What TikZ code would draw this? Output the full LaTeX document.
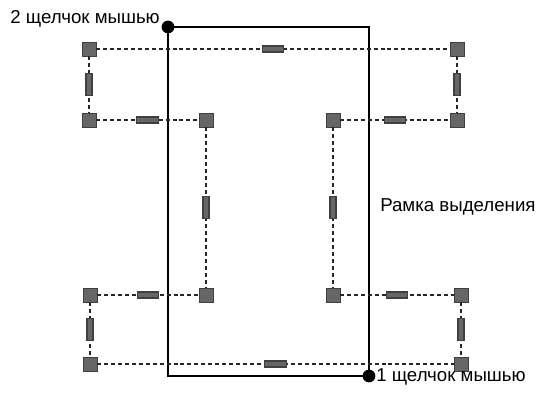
\documentclass[tikz,border=0pt]{standalone}
\usepackage{fontspec}
\setmainfont{Liberation Sans}
\begin{document}
\begin{tikzpicture}[x=0.75pt,y=-0.75pt,
  grip/.style={draw=black!75, fill=black!60, solid, minimum size=10.5pt, inner sep=0pt},
  hbar/.style={draw=black!75, fill=black!60, solid, minimum width=16pt, minimum height=4.5pt, inner sep=0pt},
  vbar/.style={draw=black!75, fill=black!60, solid, minimum width=4.5pt, minimum height=16pt, inner sep=0pt},
  link/.style={black!85, dash pattern=on 3pt off 2.2pt, line width=0.9pt},
  label/.style={font=\fontsize{14}{16}\selectfont, inner sep=0pt}]
\useasboundingbox (0,0) rectangle (537,417);

% selection frame
\coordinate (click2) at (168,27);
\coordinate (click1) at (369,376);
\draw[line width=1pt] (click2) rectangle (click1);

% grips
\node[grip] (tl)  at (89,49)   {};
\node[grip] (tr)  at (457,49)  {};
\node[grip] (tli) at (89,120)  {};
\node[grip] (tlc) at (206,120) {};
\node[grip] (trc) at (333,120) {};
\node[grip] (tri) at (457,120) {};
\node[grip] (bli) at (90,295)  {};
\node[grip] (blc) at (206,295) {};
\node[grip] (brc) at (333,295) {};
\node[grip] (bri) at (461,295) {};
\node[grip] (bl)  at (90,364)  {};
\node[grip] (br)  at (461,364) {};

% dashed outline with handles
\draw[link] (tl) -- (tr) node[midway,hbar] {};
\draw[link] (tl) -- (tli) node[midway,vbar] {};
\draw[link] (tr) -- (tri) node[midway,vbar] {};
\draw[link] (tli) -- (tlc) node[midway,hbar] {};
\draw[link] (trc) -- (tri) node[midway,hbar] {};
\draw[link] (tlc) -- (blc) node[midway,vbar] {};
\draw[link] (trc) -- (brc) node[midway,vbar] {};
\draw[link] (bli) -- (blc) node[midway,hbar] {};
\draw[link] (brc) -- (bri) node[midway,hbar] {};
\draw[link] (bli) -- (bl) node[midway,vbar] {};
\draw[link] (bri) -- (br) node[midway,vbar] {};
\draw[link] (bl) -- (br) node[midway,hbar] {};

% clicks
\fill (click2) circle (4.8pt);
\fill (click1) circle (4.8pt);
\node[label, anchor=base east] (lab2) at (160,24) {2 щелчок мышью};
\node[label, anchor=west] (lab1) at (376,377) {1 щелчок мышью};
\node[label, anchor=west] (frame) at (380,207) {Рамка выделения};
\end{tikzpicture}
\end{document}
